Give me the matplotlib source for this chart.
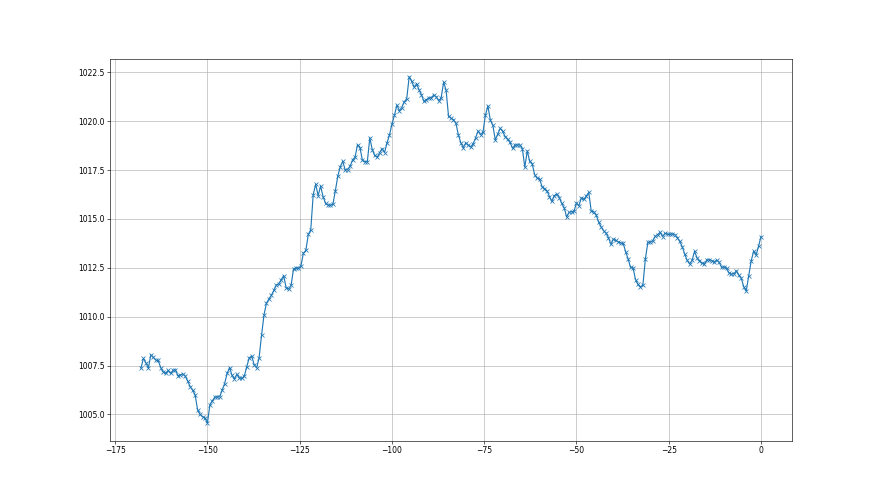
import numpy as np
from matplotlib import pyplot as plt

# pressure readings over the last 7 days (one every 40 min)
pressure = [
    1007.38, 1007.87, 1007.64, 1007.38, 1008.05, 1007.92, 1007.78, 1007.76, 1007.40, 1007.18,
    1007.10, 1007.25, 1007.10, 1007.25, 1007.28, 1006.98, 1007.02, 1007.07, 1006.96, 1006.70,
    1006.42, 1006.24, 1006.00, 1005.24, 1005.00, 1004.88, 1004.82, 1004.55, 1005.50, 1005.70,
    1005.88, 1005.90, 1005.90, 1006.25, 1006.58, 1007.10, 1007.40, 1007.00, 1006.83, 1007.05,
    1006.87, 1006.84, 1006.97, 1007.45, 1007.90, 1007.98, 1007.55, 1007.38, 1007.90, 1009.05,
    1010.10, 1010.70, 1010.90, 1011.10, 1011.35, 1011.62, 1011.68, 1011.90, 1012.10, 1011.48,
    1011.42, 1011.60, 1012.45, 1012.50, 1012.48, 1012.60, 1013.25, 1013.39, 1014.21, 1014.45,
    1016.25, 1016.78, 1016.20, 1016.68, 1016.15, 1015.80, 1015.71, 1015.71, 1015.75, 1016.45,
    1017.20, 1017.68, 1017.95, 1017.51, 1017.53, 1017.70, 1018.03, 1018.16, 1018.80, 1018.65,
    1018.00, 1017.94, 1017.94, 1019.15, 1018.55, 1018.25, 1018.16, 1018.40, 1018.60, 1018.40,
    1018.90, 1019.30, 1019.85, 1020.30, 1020.82, 1020.55, 1020.70, 1021.00, 1021.15, 1022.28,
    1022.05, 1021.75, 1021.92, 1021.62, 1021.35, 1021.02, 1021.11, 1021.20, 1021.20, 1021.35,
    1021.25, 1021.05, 1021.20, 1022.00, 1021.60, 1020.25, 1020.16, 1020.08, 1019.90, 1019.30,
    1018.90, 1018.65, 1018.90, 1018.78, 1018.69, 1018.85, 1019.15, 1019.50, 1019.31, 1019.45,
    1020.32, 1020.78, 1020.05, 1019.80, 1019.05, 1019.35, 1019.64, 1019.48, 1019.22, 1019.08,
    1018.92, 1018.62, 1018.79, 1018.79, 1018.79, 1018.60, 1017.65, 1018.48, 1017.95, 1017.82,
    1017.27, 1017.09, 1017.05, 1016.66, 1016.56, 1016.45, 1016.15, 1015.90, 1016.20, 1016.28,
    1016.10, 1015.80, 1015.58, 1015.10, 1015.34, 1015.37, 1015.40, 1015.82, 1015.68, 1016.08,
    1016.00, 1016.18, 1016.36, 1015.40, 1015.37, 1015.20, 1014.85, 1014.60, 1014.40, 1014.28,
    1014.05, 1013.70, 1013.97, 1013.90, 1013.83, 1013.77, 1013.75, 1013.32, 1012.95, 1012.52,
    1012.50, 1011.90, 1011.65, 1011.52, 1011.62, 1012.95, 1013.80, 1013.82, 1013.88, 1014.11,
    1014.20, 1014.32, 1014.10, 1014.27, 1014.22, 1014.22, 1014.24, 1014.20, 1014.05, 1013.85,
    1013.58, 1013.20, 1012.88, 1012.70, 1012.88, 1013.35, 1013.01, 1012.87, 1012.74, 1012.72,
    1012.91, 1012.92, 1012.87, 1012.80, 1012.90, 1012.78, 1012.52, 1012.55, 1012.47, 1012.24,
    1012.18, 1012.20, 1012.35, 1012.12, 1011.96, 1011.53, 1011.32, 1012.08, 1012.85, 1013.35,
    1013.15, 1013.60, 1014.10,
]

# hours before now, first reading 168 h ago
hours = np.linspace(-168, 0, len(pressure))

fig = plt.figure(figsize=(16, 9), dpi=55)
plt.plot(hours, pressure, marker='x')
plt.grid()
plt.savefig('out.png', dpi=55)
